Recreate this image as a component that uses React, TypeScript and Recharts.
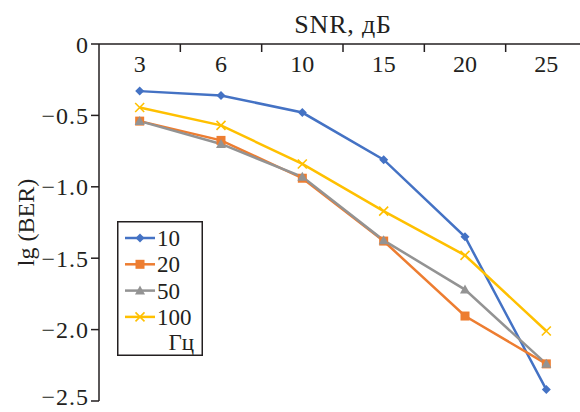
import { LineChart, Line, XAxis, YAxis } from 'recharts'

const snr = ['3', '6', '10', '15', '20', '25']
const ber10 = [-0.33, -0.36, -0.48, -0.81, -1.35, -2.42]
const ber20 = [-0.54, -0.675, -0.94, -1.38, -1.905, -2.24]
const ber50 = [-0.54, -0.7, -0.93, -1.375, -1.72, -2.24]
const ber100 = [-0.445, -0.57, -0.84, -1.17, -1.48, -2.01]
const yTicks = [0, -0.5, -1, -1.5, -2, -2.5]

const series = [
  { key: 'f10', name: '10', color: '#4472c4', marker: 'diamond', values: ber10 },
  { key: 'f20', name: '20', color: '#ed7d31', marker: 'square', values: ber20 },
  { key: 'f50', name: '50', color: '#939393', marker: 'triangle', values: ber50 },
  { key: 'f100', name: '100', color: '#ffc000', marker: 'cross', values: ber100 },
]

const data = snr.map((s, i) => {
  const row: Record<string, string | number> = { snr: s }
  series.forEach(sr => { row[sr.key] = sr.values[i] })
  return row
})

const W = 590
const H = 412
const LEFT = 99
const RIGHT = 3
const BAND = (W - LEFT - RIGHT) / snr.length
const INK = '#231f20'
const FONT = '"Liberation Serif", "DejaVu Serif", serif'

function Marker({ cx, cy, color, type }: { cx: number; cy: number; color: string; type: string }) {
  if (type === 'diamond') {
    const s = 4.5
    return <path d={`M${cx},${cy - s}L${cx + s},${cy}L${cx},${cy + s}L${cx - s},${cy}Z`} fill={color} />
  }
  if (type === 'square') {
    const s = 4.5
    return <rect x={cx - s} y={cy - s} width={s * 2} height={s * 2} fill={color} />
  }
  if (type === 'triangle') {
    const s = 5
    return <path d={`M${cx},${cy - s}L${cx + s},${cy + s * 0.8}L${cx - s},${cy + s * 0.8}Z`} fill={color} />
  }
  const s = 4.5
  return (
    <path d={`M${cx - s},${cy - s}L${cx + s},${cy + s}M${cx + s},${cy - s}L${cx - s},${cy + s}`} stroke={color} strokeWidth={1.6} fill="none" />
  )
}

const makeDot = (color: string, type: string) => (p: any) => {
  if (p.cx == null || p.cy == null) return <g key={p.index} />
  return (
    <g key={p.index}>
      <Marker cx={p.cx} cy={p.cy} color={color} type={type} />
    </g>
  )
}

const XTick = (p: any) => {
  const { x, y, payload, index } = p
  return (
    <g>
      {index > 0 && <line x1={x - BAND / 2} x2={x - BAND / 2} y1={y} y2={y + 8} stroke={INK} strokeWidth={1.5} />}
      <text x={x} y={y + 28} textAnchor="middle" fontSize={24} fontFamily={FONT} fill={INK}>
        {payload.value}
      </text>
    </g>
  )
}

const fmtY = (v: number) => (v === 0 ? '0' : '\u2212' + Math.abs(v).toFixed(1))

// bottom label is lifted a little so it stays inside the frame
const YTick = (p: any) => {
  const { x, y, payload } = p
  const lift = payload.value <= -2.5 ? -5 : 0
  return (
    <text x={x} y={y + lift} dy="0.355em" textAnchor="end" fontSize={24} letterSpacing={1} fontFamily={FONT} fill={INK}>
      {fmtY(payload.value)}
    </text>
  )
}

const LegendBox = () => (
  <svg width={86} height={135} style={{ display: 'block' }}>
    <rect x={0.75} y={0.75} width={84.5} height={133.5} fill="#fff" stroke={INK} strokeWidth={1.5} />
    {series.map((s, i) => {
      const cy = 17 + i * 26.3
      return (
        <g key={s.key}>
          <line x1={8} x2={38} y1={cy} y2={cy} stroke={s.color} strokeWidth={2.5} />
          <Marker cx={23} cy={cy} color={s.color} type={s.marker} />
          <text x={40} y={cy + 8} fontSize={23} fontFamily={FONT} fill={INK}>{s.name}</text>
        </g>
      )
    })}
    <text x={77} y={129} textAnchor="end" fontSize={23} fontFamily={FONT} fill={INK}>Гц</text>
  </svg>
)

export default function App() {
  return (
    <div style={{ position: 'absolute', left: 0, top: 0, width: 580, height: 412, overflow: 'hidden', background: '#fff' }}>
      <LineChart width={W} height={H} data={data} margin={{ top: 0, right: RIGHT, left: 0, bottom: 11 }}>
        <XAxis
          dataKey="snr"
          orientation="top"
          height={44}
          padding={{ left: BAND / 2, right: BAND / 2 }}
          axisLine={{ stroke: INK, strokeWidth: 1.5 }}
          tickLine={false}
          tickSize={0}
          tickMargin={0}
          tick={XTick}
          interval={0}
          label={{
            content: (p: any) => {
              const vb = p.viewBox
              return (
                <text x={vb.x + vb.width / 2} y={33} textAnchor="middle" fontSize={26} letterSpacing={0.8} fontFamily={FONT} fill={INK}>
                  SNR, дБ
                </text>
              )
            },
          }}
        />
        <YAxis
          type="number"
          domain={[-2.5, 0]}
          ticks={yTicks}
          width={LEFT}
          interval={0}
          axisLine={{ stroke: INK, strokeWidth: 1.5 }}
          tickLine={{ stroke: INK, strokeWidth: 1.5 }}
          tickSize={8}
          tickMargin={2}
          tick={YTick}
          label={{
            content: (p: any) => {
              const vb = p.viewBox
              const cy = vb.y + vb.height / 2
              return (
                <text x={26} y={cy} transform={`rotate(-90, 26, ${cy})`} textAnchor="middle" dominantBaseline="central" fontSize={24} fontFamily={FONT} fill={INK}>
                  lg (BER)
                </text>
              )
            },
          }}
        />
        {series.map(s => (
          <Line
            key={s.key}
            dataKey={s.key}
            name={s.name}
            stroke={s.color}
            strokeWidth={2.5}
            dot={makeDot(s.color, s.marker)}
            activeDot={false}
            isAnimationActive={false}
          />
        ))}
      </LineChart>
      <div style={{ position: 'absolute', left: 117, top: 221 }}>
        <LegendBox />
      </div>
    </div>
  )
}
